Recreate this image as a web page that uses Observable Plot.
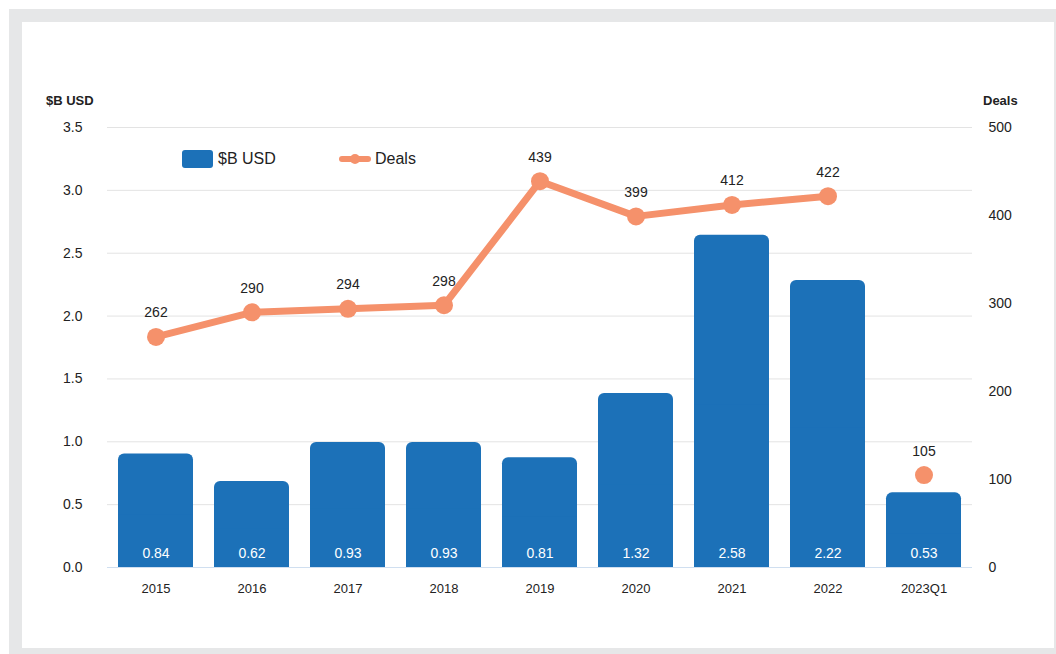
<!DOCTYPE html>
<html>
<head>
<meta charset="utf-8">
<script src="https://cdn.jsdelivr.net/npm/d3@7"></script>
<script src="https://cdn.jsdelivr.net/npm/@observablehq/plot@0.6"></script>
<style>
  html, body { margin: 0; padding: 0; background: #fff; }
  #wrap { position: relative; width: 1056px; height: 654px; overflow: hidden; font-family: "Liberation Sans", Arial, sans-serif; }
  #frame { position: absolute; left: 9px; top: 9px; width: 1047px; height: 645px; background: #e6e7e8; }
  #inner { position: absolute; left: 22px; top: 22px; width: 1032px; height: 626px; background: #fff; }
  #chart { position: absolute; left: 0; top: 0; }
  .axtitle { position: absolute; font-weight: bold; font-size: 13px; color: #222; }
  .legend { position: absolute; top: 150px; font-size: 16px; color: #222; display: flex; align-items: center; }
</style>
</head>
<body>
<div id="wrap">
  <div id="frame"></div>
  <div id="inner"></div>
  <div id="chart"></div>
  <div class="axtitle" style="left:46px; top:93px;">$B USD</div>
  <div class="axtitle" style="left:983px; top:93px;">Deals</div>
  <div class="legend" style="left:182px;">
    <span style="display:inline-block;width:31px;height:18px;background:#1c71b8;border-radius:3px;margin-right:5px;"></span>$B USD
  </div>
  <div class="legend" style="left:339px;">
    <span style="position:relative;display:inline-block;width:32px;height:18px;margin-right:4px;">
      <span style="position:absolute;left:0;top:6px;width:32px;height:6px;background:#f5916b;border-radius:3px;"></span>
      <span style="position:absolute;left:11px;top:4px;width:10px;height:10px;background:#f5916b;border-radius:5px;"></span>
    </span>Deals
  </div>
</div>
<script>
const categories = ["2015","2016","2017","2018","2019","2020","2021","2022","2023Q1"];
const usdValues = [0.84, 0.62, 0.93, 0.93, 0.81, 1.32, 2.58, 2.22, 0.53];
const dealValues = [262, 290, 294, 298, 439, 399, 412, 422, 105];
const lineCount = 8; // deals line connects 2015–2022; 2023Q1 is a separate dot
const leftTicks = [0, 0.5, 1.0, 1.5, 2.0, 2.5, 3.0, 3.5];
const rightTicks = [0, 100, 200, 300, 400, 500];

const W = 1056, H = 654;
const mL = 107, mR = 84, mT = 127, mB = 87;
const yMax = 3.5, dMax = 500;
const toLeft = d => d / dMax * yMax; // map deals onto left scale

const barData = categories.map((c, i) => ({cat: c, v: usdValues[i]}));
const dealData = categories.map((c, i) => ({cat: c, d: dealValues[i], y: toLeft(dealValues[i])}));
const lineData = dealData.slice(0, lineCount);

const barColor = "#1c71b8";
const lineColor = "#f5916b";

const plot = Plot.plot({
  width: W, height: H,
  marginLeft: mL, marginRight: mR, marginTop: mT, marginBottom: mB,
  style: {fontFamily: "Liberation Sans, Arial, sans-serif", fontSize: "13px", color: "#222", background: "transparent"},
  x: {domain: categories, paddingInner: 0.22, paddingOuter: 0.11, label: null},
  y: {domain: [0, yMax], label: null},
  marks: [
    Plot.ruleY(leftTicks, {stroke: "#e3e3e3", strokeWidth: 1}),
    Plot.barY(barData, {x: "cat", y: "v", fill: barColor, rx: 6, insetTop: -8}),
    Plot.barY(barData, {x: "cat", y: d => d.v / 2, fill: barColor}),
    Plot.ruleY([0], {stroke: "#d0dff0", strokeWidth: 1.2}),
    Plot.text(barData, {x: "cat", y: 0, text: d => d.v.toFixed(2), fill: "#fff", dy: -14, fontSize: 14}),
    Plot.line(lineData, {x: "cat", y: "y", stroke: lineColor, strokeWidth: 7, strokeLinejoin: "round", strokeLinecap: "round"}),
    Plot.dot(dealData, {x: "cat", y: "y", r: 9, fill: lineColor}),
    Plot.text(dealData, {x: "cat", y: "y", text: d => String(d.d), dy: -24, fontSize: 14, fill: "#222"}),
    Plot.axisX({tickSize: 0, tickPadding: 16, fontSize: 13, label: null}),
    Plot.axisY(leftTicks, {anchor: "left", tickSize: 0, tickPadding: 25, tickFormat: d => d.toFixed(1), fontSize: 14, label: null}),
    Plot.axisY(rightTicks.map(toLeft), {anchor: "right", tickSize: 0, tickPadding: 16, tickFormat: d => String(Math.round(d / yMax * dMax)), fontSize: 14, textAnchor: "start", label: null})
  ]
});
document.getElementById("chart").appendChild(plot);
</script>
</body>
</html>
